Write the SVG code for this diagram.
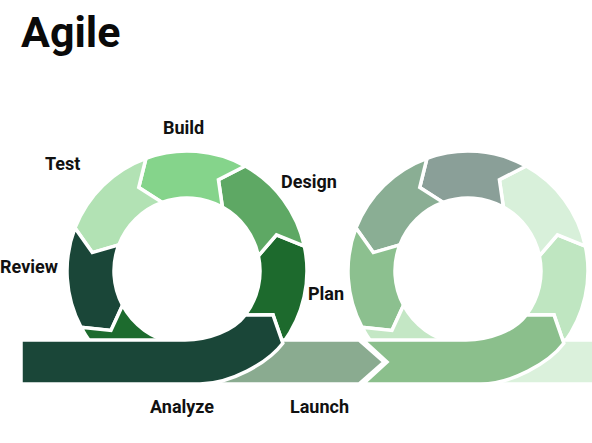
<svg xmlns="http://www.w3.org/2000/svg" width="592" height="443" viewBox="0 0 592 443">
  <style>
    .seg { stroke: #ffffff; stroke-width: 3.5; stroke-linejoin: miter; }
    .lbl { font-family: Roboto, "Liberation Sans", Arial, sans-serif; font-weight: 700; font-size: 18px; fill: #111111; }
    .title { font-family: Roboto, "Liberation Sans", Arial, sans-serif; font-weight: 700; font-size: 43px; fill: #0a0a0a; }
  </style>
  <rect width="592" height="443" fill="#ffffff"/>

  <text class="title" x="21" y="47">Agile</text>

  <!-- First loop: ring centred at (187,271) -->
  <g id="plan">
    <path class="seg" fill="#1d6a2d" d="M282.83,343.22 A120,120 0 0 0 304.37,246.05 L276.47,234.85 L258.40,255.82 A73,73 0 0 1 245.30,314.93 L272.98,314.81 Z"/>
    <text class="lbl" x="308" y="300">Plan</text>
  </g>
  <g id="design">
    <path class="seg" fill="#5ea864" d="M304.37,246.05 A120,120 0 0 0 245.18,166.05 L218.42,179.76 L222.39,207.15 A73,73 0 0 1 258.40,255.82 L276.47,234.85 Z"/>
    <text class="lbl" x="281" y="188">Design</text>
  </g>
  <g id="build">
    <path class="seg" fill="#85d48b" d="M245.18,166.05 A120,120 0 0 0 145.96,158.24 L138.75,187.43 L162.03,202.40 A73,73 0 0 1 222.39,207.15 L218.42,179.76 Z"/>
    <text class="lbl" x="163" y="134">Build</text>
  </g>
  <g id="test">
    <path class="seg" fill="#b2e2b4" d="M145.96,158.24 A120,120 0 0 0 74.97,227.99 L92.28,252.59 L118.85,244.84 A73,73 0 0 1 162.03,202.40 L138.75,187.43 Z"/>
    <text class="lbl" x="45" y="170">Test</text>
  </g>
  <g id="review">
    <path class="seg" fill="#1a4638" d="M74.97,227.99 A120,120 0 0 0 81.05,327.34 L110.96,330.42 L122.55,305.27 A73,73 0 0 1 118.85,244.84 L92.28,252.59 Z"/>
    <text class="lbl" x="0" y="273">Review</text>
  </g>

  <!-- Second loop: ring centred at (468,271) -->
  <g id="cycle-2">
    <path class="seg" fill="#bfe6c1" d="M563.83,343.22 A120,120 0 0 0 585.37,246.05 L557.47,234.85 L539.40,255.82 A73,73 0 0 1 526.30,314.93 L553.98,314.81 Z"/>
    <path class="seg" fill="#d8f0da" d="M585.37,246.05 A120,120 0 0 0 526.18,166.05 L499.42,179.76 L503.39,207.15 A73,73 0 0 1 539.40,255.82 L557.47,234.85 Z"/>
    <path class="seg" fill="#8a9f98" d="M526.18,166.05 A120,120 0 0 0 426.96,158.24 L419.75,187.43 L443.03,202.40 A73,73 0 0 1 503.39,207.15 L499.42,179.76 Z"/>
    <path class="seg" fill="#8aae94" d="M426.96,158.24 A120,120 0 0 0 355.97,227.99 L373.28,252.59 L399.85,244.84 A73,73 0 0 1 443.03,202.40 L419.75,187.43 Z"/>
    <path class="seg" fill="#8cc08f" d="M355.97,227.99 A120,120 0 0 0 362.05,327.34 L391.96,330.42 L403.55,305.27 A73,73 0 0 1 399.85,244.84 L373.28,252.59 Z"/>
  </g>

  <!-- Flow bands joining the loops -->
  <g id="connectors">
    <path class="seg" fill="#1d6b2e" d="M81.05,327.34 A120,120 0 0 0 91,343 L175,343 A73,73 0 0 1 122.55,305.27 L110.96,330.42 Z"/>
    <path class="seg" fill="#c4e7c5" d="M362.05,327.34 A120,120 0 0 0 372,343 L456,343 A73,73 0 0 1 403.55,305.27 L391.96,330.42 Z"/>
    <path class="seg" fill="#dbf1dc" d="M481,340 H600 V384 H481 Z"/>
  </g>
  <g id="launch">
    <path class="seg" fill="#8aab90" d="M200,340 H359 L384,362 L359,384 H200 Z"/>
    <text class="lbl" x="290" y="413">Launch</text>
  </g>
  <g id="analyze">
    <path class="seg" fill="#1a4638" d="M21,340 H185 C208,340 233.3,330.9 245.30,314.93 L272.98,314.81 L282.83,343.22 C267.8,363.2 230,384 200,384 H21 Z"/>
    <text class="lbl" x="150" y="413">Analyze</text>
  </g>
  <g id="iterate">
    <path class="seg" fill="#8bbf8c" d="M363,340 L387,362 L363,384 H481 C511,384 548.8,363.2 563.83,343.22 L553.98,314.81 L526.30,314.93 C514.3,330.9 489,340 466,340 Z"/>
  </g>
</svg>
